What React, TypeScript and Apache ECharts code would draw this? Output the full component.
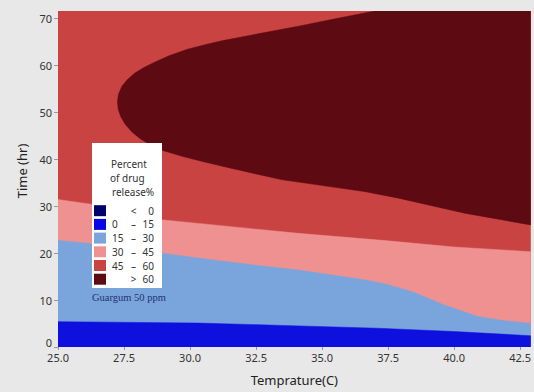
import React, { useEffect, useRef } from "react";
import * as echarts from "echarts";

// Axis ranges and tick labels
const X_MIN = 25;
const X_MAX = 42.9;
const Y_MIN = 0;
const Y_MAX = 71.55;
const xTicks = [25, 27.5, 30, 32.5, 35, 37.5, 40, 42.5];
const yTicks = [0, 10, 20, 30, 40, 50, 60, 70];

// Contour boundaries: [Temperature, Time]
const top0to15 = [
  [25, 5.4], [30.3, 5.1], [33.5, 4.6], [37.1, 4.0], [40, 3.3], [42.9, 2.4],
];
const top15to30 = [
  [25, 22.7], [27, 21.6], [28.9, 20.0], [30.9, 18.5], [32.5, 17.4], [34.1, 16.4],
  [36.6, 14.3], [37.4, 13.4], [38.4, 11.8], [39.6, 9.0], [40.9, 6.5], [41.9, 5.6], [42.9, 5.0],
];
const top30to45 = [
  [25, 31.4], [26.25, 30.4], [27.5, 28.6], [28.9, 27.1], [30.9, 26.0], [34.1, 24.2],
  [37.5, 22.6], [40, 21.3], [42.9, 20.3],
];
// >60 region ("nose"): upper branch from apex to top edge, lower branch from right edge back to apex
const above60Upper = [
  [27.25, 52.2], [27.29, 53.8], [27.42, 55.5], [27.62, 56.9], [27.9, 58.3], [28.25, 59.5],
  [28.64, 60.6], [29.2, 62.0], [29.9, 63.4], [30.6, 64.4], [31.2, 65.2], [32.4, 66.5],
  [34.1, 68.3], [35.5, 69.9], [37.0, 71.55],
];
const above60Lower = [
  [42.9, 26.0], [40.4, 28.5], [37.9, 31.7], [36.6, 33.1], [33.5, 35.6], [32.3, 37.1],
  [31.3, 38.4], [30.4, 39.6], [29.7, 40.6], [29.0, 41.8], [28.5, 43.0], [28.1, 44.4],
  [27.8, 45.8], [27.55, 47.4], [27.38, 49.0], [27.28, 50.6],
];

const legendRows = [
  ["", "<", "0"],
  ["0", "–", "15"],
  ["15", "–", "30"],
  ["30", "–", "45"],
  ["45", "–", "60"],
  ["", ">", "60"],
];
const legendColors = ["#00006e", "#0808e6", "#7aa5dc", "#ef9190", "#c94343", "#5e0a12"];

const regionColors = {
  r0to15: "#0e10de",
  r15to30: "#7aa5dc",
  r30to45: "#ef9190",
  r45to60: "#c94343",
  above60: "#5e0a12",
};

function polygonSeries(name: string, pts: number[][], color: string) {
  return {
    type: "custom",
    name,
    coordinateSystem: "cartesian2d",
    data: pts,
    silent: true,
    clip: true,
    renderItem: (params: any, api: any) => {
      if (params.dataIndex !== 0) return null;
      const points = pts.map((p) => api.coord(p));
      return {
        type: "polygon",
        shape: { points },
        style: { fill: color, stroke: color, lineWidth: 0.5 },
      };
    },
  };
}

export default function App() {
  const ref = useRef<HTMLDivElement>(null);
  useEffect(() => {
    if (!ref.current) return;
    const chart = echarts.init(ref.current, undefined, { renderer: "svg" });

    const full = [[X_MIN, Y_MIN], [X_MAX, Y_MIN], [X_MAX, Y_MAX], [X_MIN, Y_MAX]];
    const nose = [...above60Upper, [X_MAX, Y_MAX], ...above60Lower];
    const band = (top: number[][]) => [[X_MIN, Y_MIN], ...top, [X_MAX, Y_MIN]];

    const font = "'Noto Sans', sans-serif";
    const graphic: any[] = [
      { type: "rect", left: 92, top: 143, shape: { width: 70, height: 145 }, style: { fill: "#ffffff" }, z: 100 },
      { type: "text", x: 111, y: 164, style: { text: "Percent", font: `10px ${font}`, fill: "#333", verticalAlign: "middle" }, z: 101 },
      { type: "text", x: 110, y: 177.5, style: { text: "of drug", font: `10px ${font}`, fill: "#333", verticalAlign: "middle" }, z: 101 },
      { type: "text", x: 112, y: 191.5, style: { text: "release%", font: `10px ${font}`, fill: "#333", verticalAlign: "middle" }, z: 101 },
      {
        type: "text", x: 92, y: 297,
        style: { text: "Guargum 50 ppm", font: `10.5px 'Liberation Serif', serif`, fill: "#1e3270", verticalAlign: "middle" },
        z: 101,
      },
    ];
    legendRows.forEach((row, i) => {
      const cy = 210.7 + 13.7 * i;
      graphic.push({ type: "rect", x: 94, y: cy - 5.5, shape: { width: 12, height: 11 }, style: { fill: legendColors[i] }, z: 101 });
      graphic.push({ type: "text", x: 112, y: cy, style: { text: row[0], font: `10px ${font}`, fill: "#333", verticalAlign: "middle", align: "left" }, z: 101 });
      graphic.push({ type: "text", x: 133.5, y: cy, style: { text: row[1], font: `10px ${font}`, fill: "#333", verticalAlign: "middle", align: "center" }, z: 101 });
      graphic.push({ type: "text", x: 154, y: cy, style: { text: row[2], font: `10px ${font}`, fill: "#333", verticalAlign: "middle", align: "right" }, z: 101 });
    });

    chart.setOption({
      animation: false,
      backgroundColor: "#e8e8e8",
      grid: { left: 58, right: 1, top: 11, bottom: 45, containLabel: false },
      xAxis: {
        type: "value",
        min: X_MIN,
        max: X_MAX,
        name: "Temprature(C)",
        nameLocation: "middle",
        nameGap: 26,
        nameTextStyle: { fontFamily: "Noto Sans", fontSize: 13, color: "#222" },
        axisLine: { show: false },
        axisTick: { show: true, length: 3, customValues: xTicks, lineStyle: { color: "#999" } },
        axisLabel: {
          customValues: xTicks,
          margin: 5,
          fontFamily: "Noto Sans",
          fontSize: 11,
          lineHeight: 11,
          color: "#333",
          formatter: (v: number) => v.toFixed(1),
        },
        splitLine: { show: false },
      },
      yAxis: {
        type: "value",
        min: Y_MIN,
        max: Y_MAX,
        name: "Time (hr)",
        nameLocation: "middle",
        nameGap: 29,
        nameTextStyle: { fontFamily: "Noto Sans", fontSize: 13, color: "#222", padding: [0, 0, 0, 16] },
        axisLine: { show: false },
        axisTick: { show: true, length: 4, customValues: yTicks, lineStyle: { color: "#999" } },
        axisLabel: {
          customValues: yTicks,
          margin: 6,
          fontFamily: "Noto Sans",
          fontSize: 11,
          lineHeight: 11,
          color: "#333",
          formatter: (v: number) => (v === 0 ? "{z|0}" : String(v)),
          rich: { z: { fontFamily: "Noto Sans", fontSize: 11, lineHeight: 11, color: "#333", padding: [0, 0, 9, 0] } },
        },
        splitLine: { show: false },
      },
      series: [
        polygonSeries("45 – 60", full, regionColors.r45to60),
        polygonSeries("> 60", nose, regionColors.above60),
        polygonSeries("30 – 45", band(top30to45), regionColors.r30to45),
        polygonSeries("15 – 30", band(top15to30), regionColors.r15to30),
        polygonSeries("0 – 15", band(top0to15), regionColors.r0to15),
      ],
      graphic,
    });
    return () => chart.dispose();
  }, []);
  return (
    <div
      ref={ref}
      style={{ position: "fixed", left: 0, top: 0, width: 534, height: 392 }}
    />
  );
}
